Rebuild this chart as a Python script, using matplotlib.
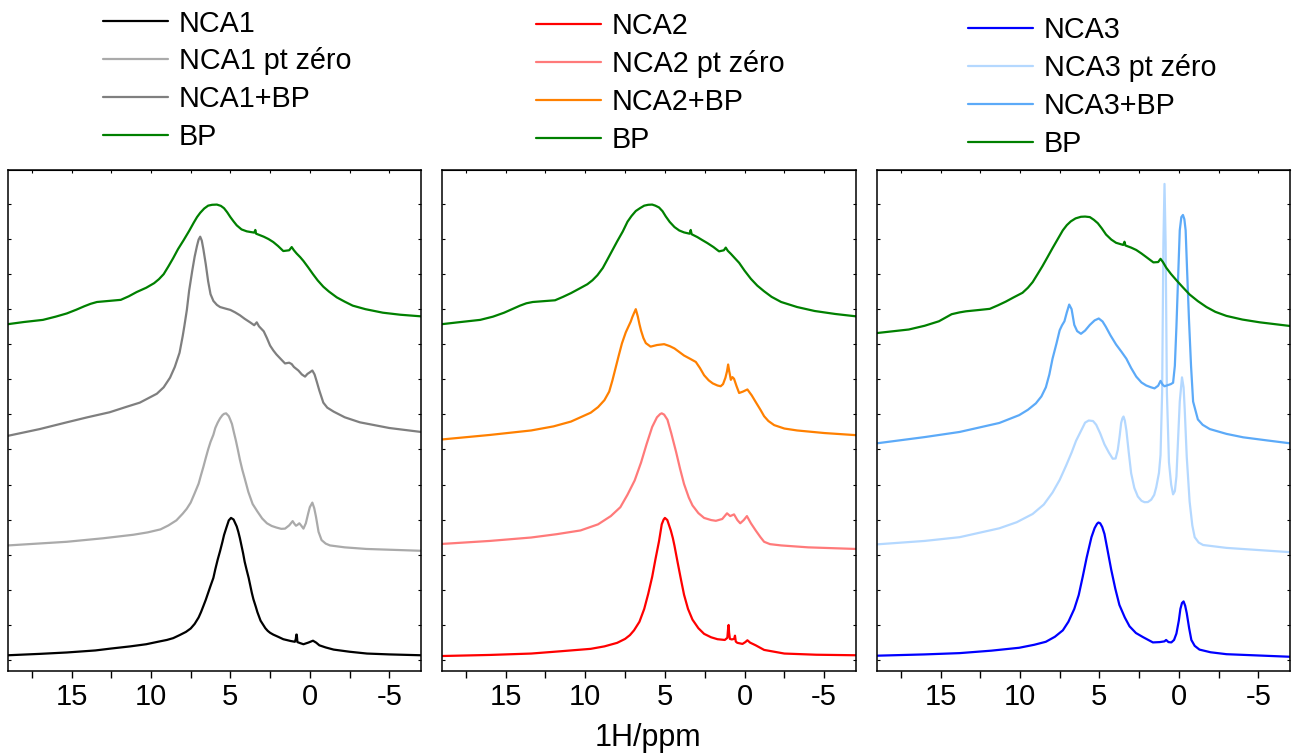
import matplotlib
matplotlib.use("Agg")
import matplotlib.pyplot as plt
from matplotlib.ticker import MultipleLocator, FixedLocator

plt.rcParams['font.family'] = ['Liberation Sans', 'DejaVu Sans']
plt.rcParams['axes.unicode_minus'] = False

# ---------------- 1H NMR spectra (chemical shift in ppm, intensity in a.u.) ----------------
# Panel 1: NCA1 series
nca1_ppm = [19, 17, 15.3, 13.5, 12.5, 11.3, 10.3, 9.5, 9.0, 8.6, 8.2, 7.8, 7.5, 7.25, 7.0, 6.85, 6.7, 6.55, 6.4,
            6.25, 6.07, 5.95, 5.8, 5.65, 5.5, 5.4, 5.25, 5.1, 4.96, 4.8, 4.6, 4.5, 4.4, 4.3, 4.2, 4.1, 3.97, 3.85,
            3.75, 3.65, 3.55, 3.4, 3.3, 3.2, 3.1, 2.95, 2.8, 2.65, 2.5, 2.3, 2.0, 1.67, 1.2, 0.94, 0.88, 0.85,
            0.82, 0.78, 0.6, 0.4, 0.1, -0.2, -0.4, -0.6, -1.0, -1.5, -2.5, -3.6, -5, -7]
nca1_int = [14.7, 16, 17.3, 19.2, 21, 23, 25, 27.5, 29, 30.7, 33.5, 36.5, 39.7, 44, 50, 55, 60.7, 66.5, 73,
            79.5, 87, 95, 104, 112, 120.7, 127, 134, 140.7, 143, 141.5, 135, 130, 124, 117, 110, 102, 94, 87,
            80, 73, 67, 60, 55, 51, 47, 43.5, 40, 37.5, 35.7, 34, 32, 29.7, 28, 27.3, 30, 34,
            34, 27, 26, 25, 26.5, 28.3, 26.5, 24, 22, 20, 18, 16.3, 15.5, 14.7]

nca1_zero_ppm = [19, 15.3, 13, 11.1, 10.2, 9.4, 8.9, 8.4, 8.0, 7.75, 7.5, 7.25, 7.0, 6.85, 6.7, 6.55, 6.4, 6.25,
                 6.07, 5.95, 5.8, 5.65, 5.5, 5.4, 5.27, 5.1, 5.0, 4.9, 4.78, 4.65, 4.52, 4.4, 4.25, 4.1, 3.87,
                 3.6, 3.3, 3.0, 2.7, 2.4, 2.1, 1.8, 1.56, 1.3, 1.08, 0.97, 0.87, 0.78, 0.66, 0.55, 0.4, 0.25, 0.1,
                 0.0, -0.16, -0.28, -0.39, -0.55, -0.74, -1.0, -1.27, -2.2, -3.57, -7]
nca1_zero_int = [17.3, 20.7, 24, 27.3, 29.5, 32.3, 36, 40.7, 47, 51.5, 57.3, 66, 75, 83, 90.7, 99, 107, 114,
                 120.7, 127, 132, 136, 139, 140.2, 140.7, 138, 134.5, 130.7, 123, 115, 106, 97.3, 88, 80, 67.3,
                 56, 49, 42.5, 38, 35.5, 34, 32.8, 33, 36, 40, 37.5, 35.7, 36.5, 38, 36, 33, 38, 47.3,
                 53, 57.3, 52, 44, 30, 22.3, 19, 17.3, 15.5, 14, 12.3]

nca1_bp_ppm = [19, 17, 15.3, 14, 12.6, 11.6, 10.7, 9.63, 9.2, 8.8, 8.5, 8.2, 8.0, 7.9, 7.74, 7.6, 7.4, 7.25, 7.1,
               7.0, 6.9, 6.8, 6.7, 6.55, 6.4, 6.25, 6.15, 6.07, 5.85, 5.65, 5.3, 5.0, 4.7, 4.4, 4.1, 3.76, 3.5,
               3.34, 3.2, 2.9, 2.7, 2.5, 2.3, 2.1, 1.8, 1.56, 1.3, 1.14, 1.0, 0.72, 0.5, 0.3, 0.15, 0.0, -0.16,
               -0.3, -0.43, -0.6, -0.85, -1.1, -1.5, -2.2, -3.15, -5, -7]
nca1_bp_int = [19.7, 26, 32.3, 37, 41.7, 46.5, 50.7, 59, 65, 74, 84, 97.3, 113, 122, 137.3, 155, 174, 187, 197.3,
               203, 205.7, 202, 194, 180, 164, 152, 148.5, 145.7, 142, 140, 138.5, 137.3, 135, 132.3, 129, 125.7,
               123, 125.7, 122, 117.3, 111, 104, 99.5, 95.7, 91, 87.3, 88, 86.7, 84, 80.7, 77, 75, 77.5, 79,
               80.7, 77, 70.7, 62, 50.7, 46, 42.3, 37, 32.3, 27, 23.3]

bp1_ppm = [19, 18, 16.8, 16, 15.3, 14.7, 14.2, 13.8, 13.4, 12.8, 11.9, 11.4, 10.9, 10.3, 9.8, 9.5, 9.2, 8.9, 8.6,
           8.3, 7.95, 7.6, 7.3, 7.1, 6.9, 6.65, 6.4, 6.15, 5.85, 5.6, 5.4, 5.2, 5.0, 4.8, 4.6, 4.3, 3.97, 3.7,
           3.5, 3.43, 3.38, 2.9, 2.6, 2.3, 2.0, 1.67, 1.3, 1.14, 1.0, 0.83, 0.6, 0.4, 0.1, -0.2, -0.5, -0.85,
           -1.2, -1.7, -2.2, -2.7, -3.5, -4.6, -5.7, -7]
bp1_int = [24, 26, 28, 31, 34, 37.5, 40.7, 43, 44.7, 45.5, 46.7, 50, 54, 58, 62.3, 66, 70.7, 78, 85.7,
           94, 102.3, 111, 119, 124, 128, 132, 134.7, 135.5, 135.7, 134.5, 132.3, 128.5, 124, 120, 116.3, 112.5,
           110.7, 110, 109.5, 112, 108.5, 105.7, 103.5, 100.7, 97, 92.3, 93, 96, 93, 90, 86.5, 83, 77, 70.7,
           64.8, 59, 54.5, 49, 45, 41.3, 38, 34.7, 32.8, 31.3]

# Panel 2: NCA2 series
nca2_ppm = [19, 16, 13.4, 11.5, 9.66, 8.8, 8.0, 7.5, 7.2, 6.94, 6.6, 6.3, 6.05, 5.8, 5.6, 5.37, 5.2, 5.08, 5.0,
            4.85, 4.63, 4.5, 4.4, 4.2, 4.0, 3.8, 3.55, 3.27, 2.9, 2.54, 2.1, 1.7, 1.24, 1.08, 1.03, 1.0, 0.97,
            0.92, 0.8, 0.65, 0.6, 0.55, 0.45, 0.13, -0.05, -0.18, -0.35, -0.7, -1.23, -2.5, -4.5, -7]
nca2_int = [14, 15, 16.3, 18.5, 20.7, 23, 26.3, 30, 33.5, 38, 46, 58, 72, 88, 104, 121.3, 137, 141.5, 143,
            141, 131.3, 124, 117, 101.3, 86, 71.3, 58, 48, 40, 34.7, 31.5, 29.7, 29, 31, 40, 43, 36,
            30, 29.5, 30, 33, 27.5, 26.3, 25.3, 27, 28.7, 26.5, 24, 19.7, 16.3, 15.2, 14.7]

nca2_zero_ppm = [19, 16, 13.4, 11.8, 10.3, 9.2, 8.4, 7.8, 7.35, 6.9, 6.5, 6.15, 5.8, 5.5, 5.3, 5.2, 5.05, 4.84,
                 4.6, 4.3, 4.05, 3.8, 3.5, 3.27, 2.9, 2.54, 2.1, 1.8, 1.4, 1.1, 0.9, 0.66, 0.45, 0.27, 0.05,
                 -0.15, -0.4, -0.7, -1.0, -1.23, -1.6, -2.3, -4, -7]
nca2_zero_int = [18.7, 21.5, 24.7, 27.8, 31.3, 37, 44.7, 53, 64.7, 78, 94.7, 112, 128, 137, 140, 140.7, 139.5,
                 134.7, 122, 104.7, 89, 74.7, 62, 54.7, 47.5, 43, 41, 40.3, 42, 47.3, 44.7, 46.3, 41, 38, 41,
                 44.7, 38, 31.3, 25, 20.7, 18.5, 17.3, 15.5, 14]

nca2_bp_ppm = [19, 16, 13.4, 12, 10.9, 9.66, 9.2, 8.8, 8.5, 8.3, 8.1, 7.9, 7.7, 7.46, 7.3, 7.15, 7.05, 6.95, 6.83,
               6.7, 6.6, 6.5, 6.35, 6.2, 5.9, 5.5, 5.05, 4.7, 4.4, 4.1, 3.8, 3.4, 3.06, 2.8, 2.54, 2.25, 2.0, 1.7,
               1.5, 1.35, 1.2, 1.1, 1.03, 0.96, 0.86, 0.76, 0.66, 0.5, 0.34, 0.1, -0.18, -0.45, -0.7, -1.0,
               -1.23, -1.5, -1.86, -2.5, -3.3, -5, -7]
nca2_bp_int = [16.3, 20.5, 24.7, 28.5, 33, 41.3, 46.5, 53, 61, 71.3, 83, 94.7, 106, 116.3, 121.5, 126.3, 130.5,
               134, 138, 131, 124, 118, 111, 106.3, 103, 104.5, 105.3, 103.5, 101.3, 98, 94.7, 91.5, 88.7, 83,
               76.3, 71.5, 68.7, 66.7, 66, 68, 74, 80, 86.3, 80, 72, 74.5, 73, 66, 59.7, 61, 63, 57.5, 51.3, 44,
               38, 33.5, 29.7, 26.5, 24.7, 22.3, 20.3]

bp2_ppm = [19, 18, 16.6, 15.8, 15.1, 14.6, 14.1, 13.7, 13.3, 12.6, 11.9, 11.4, 10.9, 10.4, 9.87, 9.55, 9.24, 8.9,
           8.6, 8.3, 8.0, 7.65, 7.35, 7.1, 6.83, 6.55, 6.3, 6.05, 5.8, 5.6, 5.37, 5.15, 4.95, 4.7, 4.4, 4.1, 3.8,
           3.45, 3.38, 3.32, 2.96, 2.65, 2.33, 1.95, 1.6, 1.3, 1.18, 1.05, 0.86, 0.6, 0.34, 0.0, -0.4, -0.8,
           -1.23, -1.7, -2.3, -3.3, -4.4, -5.7, -7]
bp2_int = [24, 25.7, 28, 31, 34.7, 38, 41.3, 43.5, 44.7, 45.5, 46.3, 49.5, 53, 57, 61.3, 65, 69.7, 76.5,
           84.7, 93, 101.3, 110.5, 119.7, 125, 129.7, 132.5, 134.7, 135.5, 135.7, 134.7, 133, 129.5, 124.7, 119.5,
           114.7, 111.5, 109.7, 108.5, 112, 108, 105.3, 102.5, 99.7, 96, 92, 93, 95.5, 92.5, 89.7, 85.5, 81.3,
           74, 66.3, 60, 54.7, 49.5, 44.7, 40, 36.3, 33.5, 31.3]

# Panel 3: NCA3 series
nca3_ppm = [19, 16, 13.8, 11.8, 10.05, 9.1, 8.37, 7.8, 7.3, 6.95, 6.58, 6.3, 6.05, 5.8, 5.5, 5.3, 5.15, 5.06,
            4.95, 4.82, 4.68, 4.5, 4.26, 4.0, 3.74, 3.4, 3.1, 2.7, 2.26, 1.63, 1.2, 0.9, 0.8, 0.65, 0.47, 0.3,
            0.15, 0.0, -0.1, -0.2, -0.3, -0.4, -0.5, -0.65, -0.79, -1.0, -1.3, -2, -3.0, -5, -7]
nca3_int = [14.3, 15.5, 16.7, 19, 21.7, 24.5, 27.3, 32, 38, 46, 58, 71, 88, 106, 125, 133.5, 137.5, 138.7,
            138, 134.5, 128, 114, 95, 77, 61.7, 50, 41.7, 35.5, 31.7, 26.7, 27, 27.7, 29, 27, 26.7, 29,
            35, 47, 58, 63.5, 65, 61, 54, 40, 29, 23.5, 20, 17.5, 15.7, 14.5, 13.3]

nca3_zero_ppm = [19, 16, 13.8, 11.3, 10.2, 9.2, 8.5, 7.95, 7.5, 7.1, 6.75, 6.47, 6.1, 5.9, 5.67, 5.4, 5.2, 4.95,
                 4.68, 4.4, 4.16, 3.98, 3.84, 3.72, 3.63, 3.55, 3.48, 3.4, 3.3, 3.15, 3.0, 2.8, 2.58, 2.35, 2.16,
                 1.95, 1.74, 1.55, 1.42, 1.25, 1.15, 1.05, 0.97, 0.9, 0.83, 0.75, 0.62, 0.48, 0.36, 0.25, 0.15,
                 0.05, -0.06, -0.2, -0.3, -0.37, -0.5, -0.68, -0.85, -1.0, -1.25, -1.53, -3.0, -5, -7]
nca3_zero_int = [18.3, 21.5, 25, 33.3, 39, 46.7, 55.5, 66.7, 78.5, 91.7, 104, 115, 126, 132, 134, 133.5, 130, 122,
                 111.7, 104, 98.3, 98.5, 106.7, 120, 131.7, 136, 137.7, 134, 124.7, 104, 84.7, 71, 63, 59, 57.7,
                 57.8, 60, 64.5, 71.7, 85, 101.7, 160, 300, 355, 300, 160, 95, 74, 65, 68, 81.7,
                 115, 151.7, 174.3, 165, 145, 100, 58.3, 36, 25, 20, 17.7, 15, 13, 11]

nca3_bp_ppm = [19, 16, 13.8, 11.3, 10.05, 9.5, 9.0, 8.65, 8.37, 8.15, 7.95, 7.7, 7.5, 7.35, 7.2, 7.05, 6.9, 6.75,
               6.58, 6.4, 6.16, 5.9, 5.6, 5.3, 5.04, 4.8, 4.6, 4.3, 3.95, 3.6, 3.3, 3.0, 2.68, 2.35, 2.05, 1.75,
               1.53, 1.3, 1.15, 1.02, 0.9, 0.7, 0.5, 0.36, 0.25, 0.15, 0.05, -0.06, -0.16, -0.26, -0.35, -0.43,
               -0.52, -0.64, -0.77, -0.9, -1.2, -1.5, -1.95, -3, -4.05, -5.5, -7]
nca3_bp_int = [12.7, 18.5, 23.3, 31.7, 39, 44, 50, 56.5, 65, 77, 91.7, 106, 118.3, 123, 126.7, 135, 142.3, 138,
               123.3, 117.5, 115, 118, 123.3, 127.5, 129.3, 126.5, 121.7, 113.5, 105, 98, 91.7, 83, 75, 69.5,
               66.7, 65, 64, 66.5, 71, 67.5, 66, 67, 68, 69.3, 85, 121.7, 165, 211.7, 224, 226, 222, 211.7,
               175, 128.3, 85, 51.7, 35, 30, 26, 21.5, 18.3, 15.5, 12.7]

bp3_ppm = [19, 17, 16, 15.1, 14.7, 14.3, 13.8, 13.4, 12.6, 11.9, 11.4, 10.9, 10.4, 9.84, 9.5, 9.2, 8.9, 8.58,
           8.25, 7.95, 7.6, 7.3, 7.05, 6.8, 6.5, 6.16, 5.9, 5.6, 5.35, 5.1, 4.85, 4.58, 4.25, 3.95, 3.5, 3.42,
           3.36, 3.0, 2.68, 2.35, 2.05, 1.6, 1.3, 1.15, 1.0, 0.79, 0.5, 0.15, -0.25, -0.68, -1.2, -1.74, -2.3,
           -3.0, -4, -5.1, -7]
bp3_int = [15.7, 19, 22.5, 26.7, 30, 33.3, 35, 36, 37.2, 38.3, 41.5, 45, 49, 53.3, 58, 63.3, 70.5, 78.3,
           87, 95, 104, 111.7, 116.5, 120, 122.8, 124.3, 124.5, 124, 121.5, 118.3, 113.5, 107.7, 103, 100, 98, 101,
           97.5, 95.5, 93.3, 90, 86.7, 81.7, 82, 85, 82, 76.7, 71, 65, 58.5, 51.7, 45.5, 40, 35.5,
           31.7, 28.3, 25.7, 22.3]

labels1 = ["NCA1", "NCA1 pt zéro", "NCA1+BP", "BP"]
labels2 = ["NCA2", "NCA2 pt zéro", "NCA2+BP", "BP"]
labels3 = ["NCA3", "NCA3 pt zéro", "NCA3+BP", "BP"]

colors1 = ["#000000", "#aaaaaa", "#7f7f7f", "#008000"]
colors2 = ["#ff0000", "#ff7a7a", "#ff8000", "#008000"]
colors3 = ["#0000ff", "#b4d8ff", "#5caaf8", "#008000"]

x_ticks = [15, 10, 5, 0, -5]
x_ticklabels = ["15", "10", "5", "0", "-5"]

# vertical stacking of the traces within a panel
stack = [0, 100, 200, 300]

panels = [
    (labels1, colors1, [(nca1_ppm, nca1_int), (nca1_zero_ppm, nca1_zero_int),
                        (nca1_bp_ppm, nca1_bp_int), (bp1_ppm, bp1_int)]),
    (labels2, colors2, [(nca2_ppm, nca2_int), (nca2_zero_ppm, nca2_zero_int),
                        (nca2_bp_ppm, nca2_bp_int), (bp2_ppm, bp2_int)]),
    (labels3, colors3, [(nca3_ppm, nca3_int), (nca3_zero_ppm, nca3_zero_int),
                        (nca3_bp_ppm, nca3_bp_int), (bp3_ppm, bp3_int)]),
]

W, H = 1293, 755
fig = plt.figure(figsize=(W / 100, H / 100), dpi=100)

axes_px = [(8, 413), (442, 414), (877, 413)]   # left, width in pixels
ax_bottom, ax_height = 84, 501

legend_anchor = [(103, 9.5), (536, 12.5), (968, 16.5)]

for (labels, colors, traces), (left, width), (lx, ly) in zip(panels, axes_px, legend_anchor):
    ax = fig.add_axes([left / W, ax_bottom / H, width / W, ax_height / H])
    handles = []
    for k, ((ppm, inten), col, lab) in enumerate(zip(traces, colors, labels)):
        ln, = ax.plot(ppm, [v + stack[k] for v in inten], color=col, lw=1.6, label=lab,
                      solid_joinstyle='round', solid_capstyle='round')
        handles.append(ln)
    ax.set_xlim(19, -7)
    ax.set_ylim(0, 468)
    ax.xaxis.set_major_locator(FixedLocator(x_ticks))
    ax.set_xticklabels(x_ticklabels)
    ax.xaxis.set_minor_locator(MultipleLocator(2.5))
    ax.tick_params(axis='x', which='both', direction='out', length=5, width=1, pad=3.5,
                   labelsize=21, top=False)
    ax.set_yticks([10.2 + 32.8 * i for i in range(14)])
    ax.tick_params(axis='y', which='both', direction='in', length=2.5, width=0.8,
                   left=True, right=True, labelleft=False)
    top = ax.secondary_xaxis('top')
    top.xaxis.set_major_locator(MultipleLocator(2.5))
    top.tick_params(direction='in', length=2.5, width=0.8, labeltop=False)
    for sp in ax.spines.values():
        sp.set_linewidth(1.1)
    fig.legend(handles=handles, labels=labels, loc='upper left',
               bbox_to_anchor=(lx / W, 1 - ly / H), frameon=False, fontsize=20.7,
               borderpad=0, borderaxespad=0, handlelength=2.25, handletextpad=0.38,
               labelspacing=0.34)

fig.text(648 / W, 1 - 746 / H, "1H/ppm", ha='center', va='baseline', fontsize=22)

fig.savefig("out.png", dpi=100)
